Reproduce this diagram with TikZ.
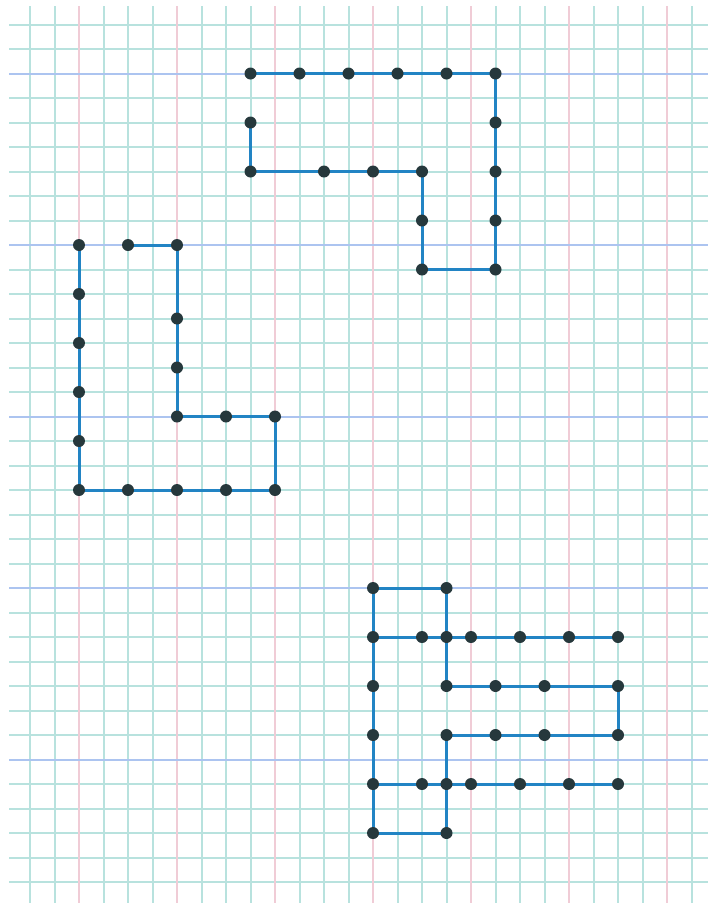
\documentclass[tikz,border=0pt]{standalone}
\pgfdeclarelayer{background}
\pgfdeclarelayer{grid}
\pgfsetlayers{grid,background,main}
\definecolor{gridteal}{RGB}{184,226,222}
\definecolor{gridpink}{RGB}{240,204,214}
\definecolor{gridblue}{RGB}{172,196,240}
\definecolor{edgeblue}{RGB}{34,132,196}
\definecolor{dotdark}{RGB}{38,56,60}
\tikzset{
  dotn/.style={circle,fill=dotdark,inner sep=0pt,minimum size=12pt},
  edge/.style={draw=edgeblue,line width=3pt,line join=round},
  gline/.style={draw=gridteal,line width=2pt},
  pline/.style={draw=gridpink,line width=2pt},
  bline/.style={draw=gridblue,line width=2pt}
}
\begin{document}
\begin{tikzpicture}[x=1pt,y=-1pt]
\useasboundingbox (0,0) rectangle (708,903);
\begin{pgfonlayer}{grid}
\fill[white] (0,0) rectangle (708,903);
\end{pgfonlayer}
\begin{scope}[shift={(30,24.5)},x=24.5pt,y=-24.5pt]
\begin{pgfonlayer}{grid}
\clip (-0.857,-0.755) rectangle (27.67,35.86);
\foreach \i in {0,...,27} \draw[gline] (\i,-1) -- (\i,37);
\foreach \j in {0,...,35} \draw[gline] (-1,\j) -- (29,\j);
\foreach \i in {2,6,10,14,18,22,26} \draw[pline] (\i,-1) -- (\i,37);
\foreach \j in {2,9,16,23,30} \draw[bline] (-1,\j) -- (29,\j);
\end{pgfonlayer}
% top shape
\node[dotn] (t1) at (9,4) {};
\node[dotn] (t2) at (9,6) {};
\node[dotn] (t3) at (12,6) {};
\node[dotn] (t4) at (14,6) {};
\node[dotn] (t5) at (16,6) {};
\node[dotn] (t6) at (16,8) {};
\node[dotn] (t7) at (16,10) {};
\node[dotn] (t8) at (19,10) {};
\node[dotn] (t9) at (19,8) {};
\node[dotn] (t10) at (19,6) {};
\node[dotn] (t11) at (19,4) {};
\node[dotn] (t12) at (19,2) {};
\node[dotn] (t13) at (17,2) {};
\node[dotn] (t14) at (15,2) {};
\node[dotn] (t15) at (13,2) {};
\node[dotn] (t16) at (11,2) {};
\node[dotn] (t17) at (9,2) {};
% L shape
\node[dotn] (l1) at (4,9) {};
\node[dotn] (l2) at (6,9) {};
\node[dotn] (l3) at (6,12) {};
\node[dotn] (l4) at (6,14) {};
\node[dotn] (l5) at (6,16) {};
\node[dotn] (l6) at (8,16) {};
\node[dotn] (l7) at (10,16) {};
\node[dotn] (l8) at (10,19) {};
\node[dotn] (l9) at (8,19) {};
\node[dotn] (l10) at (6,19) {};
\node[dotn] (l11) at (4,19) {};
\node[dotn] (l12) at (2,19) {};
\node[dotn] (l13) at (2,17) {};
\node[dotn] (l14) at (2,15) {};
\node[dotn] (l15) at (2,13) {};
\node[dotn] (l16) at (2,11) {};
\node[dotn] (l17) at (2,9) {};
% E shape
\foreach \n/\y in {1/23,2/25,3/27,4/29,5/31,6/33} {
  \node[dotn] (e\n) at (14,\y) {};
  \node[dotn] (f\n) at (17,\y) {};
}
\node[dotn] (r1) at (16,25) {};
\node[dotn] (r2) at (18,25) {};
\node[dotn] (r3) at (20,25) {};
\node[dotn] (r4) at (22,25) {};
\node[dotn] (r5) at (24,25) {};
\node[dotn] (s1) at (19,27) {};
\node[dotn] (s2) at (21,27) {};
\node[dotn] (s3) at (24,27) {};
\node[dotn] (u1) at (19,29) {};
\node[dotn] (u2) at (21,29) {};
\node[dotn] (u3) at (24,29) {};
\node[dotn] (v1) at (16,31) {};
\node[dotn] (v2) at (18,31) {};
\node[dotn] (v3) at (20,31) {};
\node[dotn] (v4) at (22,31) {};
\node[dotn] (v5) at (24,31) {};
\begin{pgfonlayer}{background}
\draw[edge] (t1.center)
  \foreach \k in {2,...,17} { -- (t\k.center) };
\draw[edge] (l1.center)
  \foreach \k in {2,...,17} { -- (l\k.center) };
\draw[edge] (e1.center) -- (e6.center);
\draw[edge] (e1.center) -- (f1.center) -- (f3.center);
\draw[edge] (f4.center) -- (f6.center) -- (e6.center);
\draw[edge] (e2.center) -- (r1.center) -- (f2.center) -- (r2.center) -- (r3.center) -- (r4.center) -- (r5.center);
\draw[edge] (f3.center) -- (s1.center) -- (s2.center) -- (s3.center) -- (u3.center) -- (u2.center) -- (u1.center) -- (f4.center);
\draw[edge] (e5.center) -- (v1.center) -- (f5.center) -- (v2.center) -- (v3.center) -- (v4.center) -- (v5.center);
\end{pgfonlayer}
\end{scope}
\end{tikzpicture}
\end{document}
